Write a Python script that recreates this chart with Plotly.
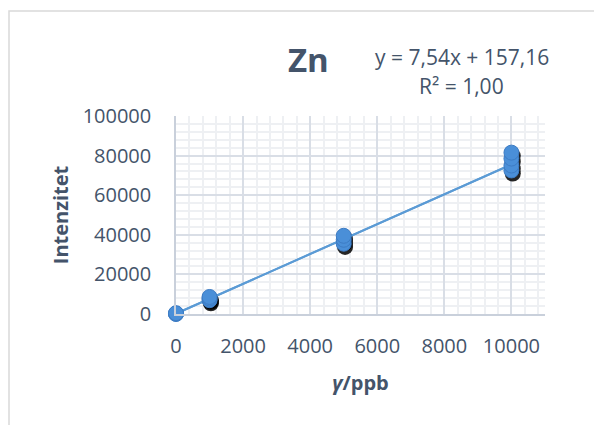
import plotly.graph_objects as go

conc = [0, 0, 0, 1000, 1000, 1000, 5000, 5000, 5000, 10000, 10000, 10000, 10000]
intensity = [0, 200, 400, 7000, 7800, 8600, 35500, 37500, 39500, 72500, 75000, 78500, 81500]
slope = 7.54
intercept = 157.16
fit_x = [0, 10000]
fit_y = [slope * v + intercept for v in fit_x]
x_ticks = [0, 2000, 4000, 6000, 8000, 10000]
y_ticks = [0, 20000, 40000, 60000, 80000, 100000]

TXT = "#44546A"
FONT = "Open Sans"
W, H = 594, 425
L, R, T, B = 176, 49, 116, 111
pw, ph = W - L - R, H - T - B


def px(x):
    return (x - L) / pw


def py(y):
    return 1 - (y - T) / ph


xr = [0, 11000]
yr = [0, 100000]

fig = go.Figure()
fig.add_trace(go.Scatter(x=fit_x, y=fit_y, mode="lines", cliponaxis=False,
                         line=dict(color="#5B9BD5", width=2), showlegend=False))
# shadow layer: same data on overlaid axes shifted a few pixels
fig.add_trace(go.Scatter(x=conc, y=intensity, mode="markers", xaxis="x2", yaxis="y2",
                         cliponaxis=False, marker=dict(size=16, color="rgba(0,0,0,0.85)"),
                         hoverinfo="skip", showlegend=False))
fig.add_trace(go.Scatter(x=fit_x, y=fit_y, mode="lines", xaxis="x3", yaxis="y3", cliponaxis=False,
                         line=dict(color="#5B9BD5", width=2), showlegend=False))
fig.add_trace(go.Scatter(x=conc, y=intensity, mode="markers", xaxis="x3", yaxis="y3",
                         cliponaxis=False,
                         marker=dict(size=15, color="#4A8FD8", line=dict(color="#3D7CC4", width=1)),
                         showlegend=False))

fig.update_layout(
    width=W, height=H,
    margin=dict(l=L, r=R, t=T, b=B),
    paper_bgcolor="white", plot_bgcolor="white",
    font=dict(family=FONT, color=TXT),
    xaxis=dict(range=xr, tickvals=x_ticks, ticktext=[str(v) for v in x_ticks], automargin=False,
               showgrid=True, gridcolor="#D9DEE6", gridwidth=1.5,
               minor=dict(dtick=400, showgrid=True, gridcolor="#EEF0F3"),
               showline=True, linecolor="#C9D0DB", linewidth=1.5, zeroline=False,
               tickfont=dict(size=20, color=TXT), ticks="", ticklabelstandoff=13,
               title=dict(text="<b><i>γ</i>/ppb</b>", font=dict(size=20, color=TXT), standoff=18)),
    yaxis=dict(range=yr, tickvals=y_ticks, ticktext=[str(v) for v in y_ticks], automargin=False,
               showgrid=True, gridcolor="#D9DEE6", gridwidth=1.5,
               minor=dict(dtick=4000, showgrid=True, gridcolor="#EEF0F3"),
               showline=True, linecolor="#C9D0DB", linewidth=1.5, zeroline=False,
               tickfont=dict(size=20, color=TXT), ticks="", ticklabelstandoff=19,
               title=dict(text="<b>Intenzitet</b>", font=dict(size=20, color=TXT), standoff=9)),
    xaxis2=dict(range=[xr[0] - 40, xr[1] - 40], overlaying="x", visible=False),
    yaxis2=dict(range=[yr[0] + 1600, yr[1] + 1600], overlaying="y", visible=False),
    xaxis3=dict(range=xr, overlaying="x", visible=False),
    yaxis3=dict(range=yr, overlaying="y", visible=False),
    shapes=[dict(type="rect", xref="paper", yref="paper",
                 x0=px(9), x1=px(610), y0=py(440), y1=py(11),
                 line=dict(color="#D9D9D9", width=1.5), fillcolor="rgba(0,0,0,0)", layer="below")],
    annotations=[
        dict(text="<b>Zn</b>", x=px(308), y=py(60), xref="paper", yref="paper", showarrow=False,
             xanchor="center", yanchor="middle", font=dict(size=33, color=TXT)),
        dict(text="y = 7,54x + 157,16", x=px(462), y=py(57), xref="paper", yref="paper",
             showarrow=False, xanchor="center", yanchor="middle", font=dict(size=21, color=TXT)),
        dict(text="R² = 1,00", x=px(461), y=py(86), xref="paper", yref="paper",
             showarrow=False, xanchor="center", yanchor="middle", font=dict(size=21, color=TXT)),
    ],
)
fig.write_html("out.html", config={"displayModeBar": False},
               post_script="document.body.style.margin='0';")
